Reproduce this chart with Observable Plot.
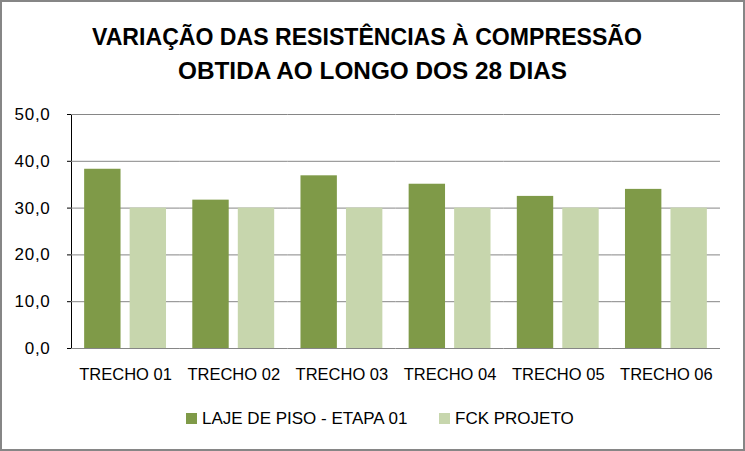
<!DOCTYPE html>
<html>
<head>
<meta charset="utf-8">
<script src="https://cdn.jsdelivr.net/npm/d3@7"></script>
<script src="https://cdn.jsdelivr.net/npm/@observablehq/plot@0.6"></script>
<style>
  html, body { margin: 0; padding: 0; background: #fff; }
  #chart { position: relative; width: 745px; height: 451px; overflow: hidden; background: #fff; font-family: "Liberation Sans", Arial, sans-serif; }
  #border { position: absolute; left: 0; top: 0; width: 745px; height: 451px; box-sizing: border-box; border: 2px solid #868686; pointer-events: none; }
  #title { position: absolute; left: 0; top: 0; }
  #plot { position: absolute; left: 0; top: 100px; }
  .leg { position: absolute; font-size: 17px; color: #000; line-height: 1; white-space: nowrap; }
  .sw { position: absolute; width: 11px; height: 11px; }
</style>
</head>
<body>
<div id="chart">
  <svg id="title" width="745" height="100" xmlns="http://www.w3.org/2000/svg"></svg>
  <div id="plot"></div>
  <div id="legend"></div>
  <div id="border"></div>
</div>
<script>
const titleLines = ["VARIAÇÃO DAS RESISTÊNCIAS À COMPRESSÃO", "OBTIDA AO LONGO DOS 28 DIAS"];
const categories = ["TRECHO 01", "TRECHO 02", "TRECHO 03", "TRECHO 04", "TRECHO 05", "TRECHO 06"];
const seriesNames = ["LAJE DE PISO - ETAPA 01", "FCK PROJETO"];
const lajeValues = [38.3, 31.7, 36.9, 35.1, 32.5, 34.0];
const fckValues = [30.0, 30.0, 30.0, 30.0, 30.0, 30.0];
const yTicks = [0, 10, 20, 30, 40, 50];
const colors = ["#7f9a48", "#c7d6ad"];

// Title
const tsvg = d3.select("#title");
const titleSpecs = [{y: 45, cx: 367, w: 550}, {y: 79, cx: 372.5, w: 389}];
titleLines.forEach((t, i) => {
  tsvg.append("text")
    .attr("x", titleSpecs[i].cx).attr("y", titleSpecs[i].y)
    .attr("text-anchor", "middle")
    .attr("font-family", "Liberation Sans, Arial, sans-serif")
    .attr("font-weight", "bold").attr("font-size", 24)
    .attr("textLength", titleSpecs[i].w)
    .attr("lengthAdjust", "spacingAndGlyphs")
    .attr("fill", "#000")
    .text(t);
});

// Data table
const data = [];
categories.forEach((c, i) => {
  data.push({cat: c, series: seriesNames[0], value: lajeValues[i]});
  data.push({cat: c, series: seriesNames[1], value: fckValues[i]});
});

const fmt = v => d3.format(".1f")(v).replace(".", ",");

const plot = Plot.plot({
  width: 745,
  height: 300,
  marginTop: 14,
  marginBottom: 52,
  marginLeft: 71,
  marginRight: 25,
  style: {fontFamily: "Liberation Sans, Arial, sans-serif", fontSize: "16.5px", color: "#000", background: "transparent"},
  fx: {domain: categories, padding: 0, round: false, label: null, axis: "bottom", tickSize: 0, tickPadding: 20},
  x: {domain: seriesNames, paddingInner: 0.2, paddingOuter: 0.289, round: false, axis: null},
  y: {domain: [0, 50], ticks: yTicks, tickFormat: fmt, tickSize: 4, tickPadding: 17, label: null, line: true},
  color: {domain: seriesNames, range: colors},
  marks: [
    Plot.ruleY(yTicks.filter(d => d > 0), {stroke: "#868686", strokeWidth: 1}),
    Plot.barY(data, {fx: "cat", x: "series", y: "value", fill: "series"}),
    Plot.ruleY([0], {stroke: "#868686", strokeWidth: 1})
  ]
});
plot.querySelectorAll("[aria-label='y-axis line'], [aria-label='y-axis tick']").forEach(g => g.setAttribute("stroke", "#868686"));
plot.querySelectorAll("[aria-label='y-axis tick label']").forEach(g => {
  g.setAttribute("font-size", "17px");
  g.setAttribute("letter-spacing", "0.7px");
});
document.getElementById("plot").appendChild(plot);

// Legend
const legendPos = [{sx: 186, tx: 202}, {sx: 439, tx: 455}];
const leg = document.getElementById("legend");
seriesNames.forEach((s, i) => {
  const sw = document.createElement("div");
  sw.className = "sw";
  sw.style.left = legendPos[i].sx + "px";
  sw.style.top = "413px";
  sw.style.background = colors[i];
  leg.appendChild(sw);
  const t = document.createElement("div");
  t.className = "leg";
  t.style.left = legendPos[i].tx + "px";
  t.style.top = "410px";
  t.textContent = s;
  leg.appendChild(t);
});
</script>
</body>
</html>
